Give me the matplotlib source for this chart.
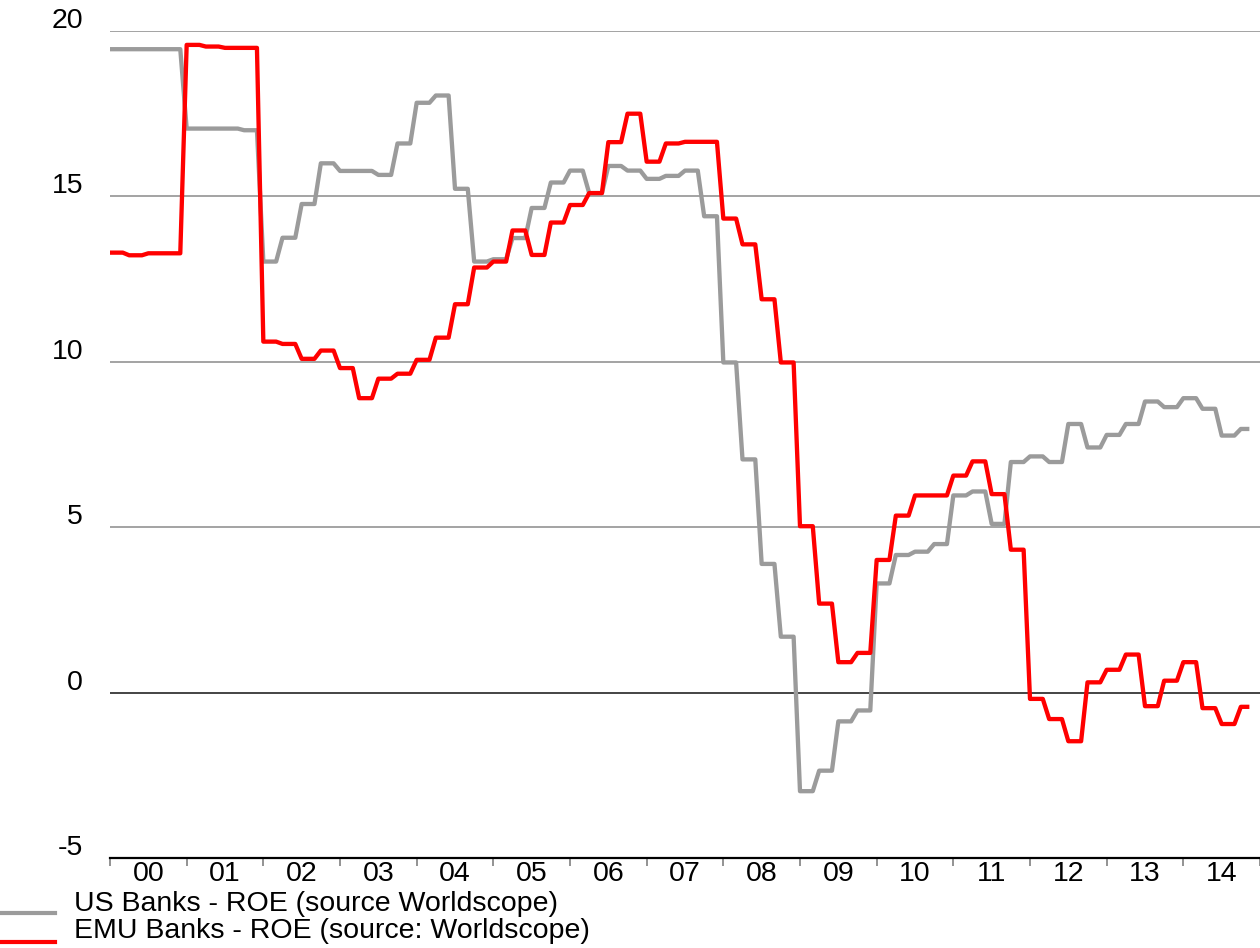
import numpy as np
import matplotlib
matplotlib.use("Agg")
import matplotlib.pyplot as plt
from matplotlib.lines import Line2D
from matplotlib.transforms import offset_copy

plt.rcParams['font.family'] = ['Liberation Sans', 'DejaVu Sans']

# Quarterly ROE values (2000Q1 .. 2014Q4), held constant within each quarter (monthly data)
us_roe_q = [
    19.45, 19.45, 19.45, 19.45,   # 2000
    17.05, 17.05, 17.05, 17.00,   # 2001
    13.03, 13.75, 14.77, 16.00,   # 2002
    15.77, 15.77, 15.65, 16.60,   # 2003
    17.83, 18.05, 15.23, 13.03,   # 2004
    13.10, 13.74, 14.65, 15.42,   # 2005
    15.78, 15.10, 15.92, 15.78,   # 2006
    15.53, 15.62, 15.78, 14.40,   # 2007
    9.98, 7.05, 3.89, 1.69,       # 2008
    -2.98, -2.36, -0.87, -0.54,   # 2009
    3.30, 4.16, 4.26, 4.49,       # 2010
    5.96, 6.08, 5.10, 6.97,       # 2011
    7.14, 6.97, 8.12, 7.41,       # 2012
    7.79, 8.12, 8.80, 8.63,       # 2013
    8.90, 8.58, 7.77, 7.97,       # 2014
]
emu_roe_q = [
    13.30, 13.22, 13.28, 13.28,   # 2000
    19.58, 19.53, 19.49, 19.49,   # 2001
    10.61, 10.54, 10.09, 10.34,   # 2002
    9.81, 8.90, 9.49, 9.64,       # 2003
    10.06, 10.73, 11.74, 12.85,   # 2004
    13.03, 13.97, 13.23, 14.21,   # 2005
    14.74, 15.10, 16.64, 17.50,   # 2006
    16.05, 16.60, 16.65, 16.65,   # 2007
    14.33, 13.55, 11.89, 9.98,    # 2008
    5.03, 2.69, 0.92, 1.20,       # 2009
    4.01, 5.35, 5.96, 5.96,       # 2010
    6.56, 6.99, 6.00, 4.32,       # 2011
    -0.19, -0.80, -1.47, 0.31,    # 2012
    0.69, 1.15, -0.41, 0.36,      # 2013
    0.92, -0.47, -0.95, -0.43,    # 2014
]
n_months = 179  # Jan 2000 .. Nov 2014
us_roe = np.repeat(us_roe_q, 3)[:n_months]
emu_roe = np.repeat(emu_roe_q, 3)[:n_months]
months = np.arange(n_months)

year_labels = ['00', '01', '02', '03', '04', '05', '06', '07', '08', '09',
               '10', '11', '12', '13', '14']
y_ticks = [20, 15, 10, 5, 0, -5]
series_labels = ['US Banks - ROE (source Worldscope)',
                 'EMU Banks - ROE (source: Worldscope)']

GRAY = '#9b9b9b'
RED = '#ff0000'
W, H = 1260, 948
FS = 20.5

fig = plt.figure(figsize=(W / 100, H / 100), dpi=100)
ax = fig.add_axes([110 / W, 1 - 858 / H, 1150 / W, (858 - 31) / H])
ax.set_xlim(0, 180)
ax.set_ylim(-5, 20)

for yv in y_ticks:
    if yv == -5:
        continue
    ax.axhline(yv, color='#111111' if yv == 0 else '#8a8a8a', lw=1.1, zorder=1)

ax.plot(months, us_roe, color=GRAY, lw=3.1, solid_joinstyle='round', zorder=3)
ax.plot(months, emu_roe, color=RED, lw=3.1, solid_joinstyle='round', zorder=4)

for s in ['top', 'right', 'left']:
    ax.spines[s].set_visible(False)
ax.spines['bottom'].set_color('#000000')
ax.spines['bottom'].set_linewidth(1.6)

ax.set_xticks(np.arange(0, 181, 12))
ax.set_xticklabels([])
ax.set_xticks(np.arange(6, 180, 12), minor=True)
ax.set_xticklabels(year_labels, minor=True, fontsize=FS)
ax.tick_params(axis='x', which='major', length=6, width=1.2, color='#808080', direction='out')
ax.tick_params(axis='x', which='minor', length=0, pad=2)

ax.set_yticks([])
ytrans = offset_copy(ax.get_yaxis_transform(), fig=fig, x=-27, y=3, units='dots')
for yv in y_ticks:
    ax.text(0, yv, str(yv), transform=ytrans, ha='right', va='baseline', fontsize=FS)

# legend
for i, (lab, col) in enumerate(zip(series_labels, [GRAY, RED])):
    ly = 913 + i * 28.5
    fig.add_artist(Line2D([2 / W, 55 / W], [1 - ly / H, 1 - ly / H],
                          transform=fig.transFigure, color=col, lw=3.0))
    fig.text(74 / W, 1 - (911 + i * 27.5) / H, lab, fontsize=FS, va='baseline')

fig.savefig('out.png', dpi=100)
